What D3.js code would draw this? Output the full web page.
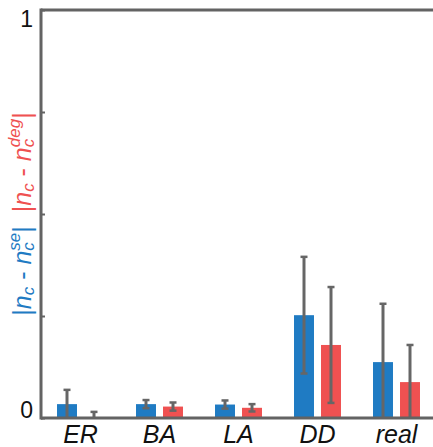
<!DOCTYPE html>
<html><head><meta charset="utf-8">
<script src="https://cdn.jsdelivr.net/npm/d3@7"></script>
<style>body{margin:0;background:#fff}svg{display:block}</style>
</head><body>
<svg id="c" width="433" height="447"></svg>
<script>
const categories = ["ER","BA","LA","DD","real"];
const seriesNames = ["se","deg"];
const seValues  = [0.034, 0.034, 0.033, 0.252, 0.137];
const seErrors  = [0.035, 0.010, 0.010, 0.143, 0.143];
const degValues = [0.000, 0.028, 0.025, 0.179, 0.088];
const degErrors = [0.015, 0.010, 0.009, 0.142, 0.091];
const yTicks = [0, 0.25, 0.5, 0.75, 1];
const yTickLabels = {0:"0", 1:"1"};

(function(){
const W=433,H=447;
const mL=41, mR=436, mT=10, mB=418;
const BLUE="#1f7bc3", RED="#ef5151", AX="#636363", EB="#666666";
const font="'Liberation Sans', Arial, Helvetica, sans-serif";

const svg=d3.select("#c");
const x0=d3.scaleBand().domain(categories).range([mL,mR]);
const x1=d3.scaleBand().domain(seriesNames).range([0,x0.bandwidth()]).paddingInner(0.26).paddingOuter(0.593);
const y=d3.scaleLinear().domain([0,1]).range([mB,mT]);

svg.append("clipPath").attr("id","clip").append("rect")
  .attr("x",mL).attr("y",mT).attr("width",mR-mL).attr("height",mB-mT);

const data=[];
categories.forEach((c,i)=>{
  data.push({c,s:"se",v:seValues[i],e:seErrors[i],col:BLUE});
  data.push({c,s:"deg",v:degValues[i],e:degErrors[i],col:RED});
});

const g=svg.append("g").attr("clip-path","url(#clip)");
g.selectAll("rect.bar").data(data).join("rect").attr("class","bar")
  .attr("x",d=>x0(d.c)+x1(d.s)).attr("width",x1.bandwidth())
  .attr("y",d=>y(d.v)).attr("height",d=>y(0)-y(d.v)).attr("fill",d=>d.col);

const eb=g.selectAll("g.eb").data(data).join("g").attr("class","eb")
  .attr("transform",d=>`translate(${x0(d.c)+x1(d.s)+x1.bandwidth()/2},0)`);
eb.append("line").attr("y1",d=>y(d.v+d.e)).attr("y2",d=>y(d.v-d.e))
  .attr("stroke",EB).attr("stroke-width",3);
eb.append("line").attr("x1",-3.5).attr("x2",3.5).attr("y1",d=>y(d.v+d.e)).attr("y2",d=>y(d.v+d.e))
  .attr("stroke",EB).attr("stroke-width",2.5);
eb.append("line").attr("x1",-3.5).attr("x2",3.5).attr("y1",d=>y(d.v-d.e)).attr("y2",d=>y(d.v-d.e))
  .attr("stroke",EB).attr("stroke-width",2.5);

const yAx=svg.append("g").attr("transform",`translate(${mL},0)`)
  .call(d3.axisRight(y).tickValues(yTicks).tickSize(4).tickFormat(""));
yAx.select(".domain").remove();
yAx.selectAll(".tick line").attr("stroke",AX).attr("stroke-width",2);
svg.selectAll("text.yl").data(yTicks.filter(t=>yTickLabels[t]!==undefined)).join("text")
  .attr("class","yl").attr("x",33).attr("y",d=>d===0?y(d):y(d)+16.7)
  .attr("text-anchor","end").attr("font-family",font).attr("font-size",23).attr("fill","#111")
  .text(d=>yTickLabels[d]);

svg.append("line").attr("x1",mL).attr("x2",W).attr("y1",mT).attr("y2",mT).attr("stroke",AX).attr("stroke-width",3);
svg.append("line").attr("x1",mL).attr("x2",W).attr("y1",mB).attr("y2",mB).attr("stroke",AX).attr("stroke-width",3);
svg.append("line").attr("x1",mL).attr("x2",mL).attr("y1",mT-1.5).attr("y2",mB+1.5).attr("stroke",AX).attr("stroke-width",3);

const xAx=svg.append("g").attr("transform",`translate(0,${mB})`).call(d3.axisBottom(x0).tickSize(0));
xAx.select(".domain").remove();
xAx.selectAll("text").attr("font-family",font).attr("font-size",25).attr("font-style","italic")
  .attr("fill","#111").attr("dy",null).attr("y",25);

const lab=svg.append("g").attr("transform",`translate(31,${y(0.5)}) rotate(-90)`);
const FS=25, SFS=17;
const parts=[
  {t:"|",c:BLUE},{t:"n",c:BLUE,i:1},{t:"c",c:BLUE,i:1,s:SFS,dy:3},
  {t:" - ",c:BLUE},{t:"n",c:BLUE,i:1},
  {stack:[{t:"c",c:BLUE,i:1,s:SFS,dy:3},{t:"se",c:BLUE,i:1,s:SFS,dy:-11}]},
  {t:"|",c:BLUE},{t:"  ",c:BLUE},
  {t:"|",c:RED},{t:"n",c:RED,i:1},{t:"c",c:RED,i:1,s:SFS,dy:3},
  {t:" - ",c:RED},{t:"n",c:RED,i:1},
  {stack:[{t:"c",c:RED,i:1,s:SFS,dy:3},{t:"deg",c:RED,i:1,s:SFS,dy:-11}]},
  {t:"|",c:RED}
];
let cx=0;
function put(p,xx){
  const el=lab.append("text").attr("x",xx).attr("y",p.dy||0)
    .attr("font-family",font).attr("font-size",p.s||FS).attr("fill",p.c)
    .attr("font-style",p.i?"italic":"normal")
    .style("white-space","pre").text(p.t);
  return el.node().getComputedTextLength();
}
parts.forEach(p=>{
  if(p.stack){let m=0;p.stack.forEach(q=>{m=Math.max(m,put(q,cx));});cx+=m;}
  else cx+=put(p,cx);
});
lab.selectAll("text").attr("x",function(){return +d3.select(this).attr("x")-cx/2;});
})();
</script>
</body></html>
